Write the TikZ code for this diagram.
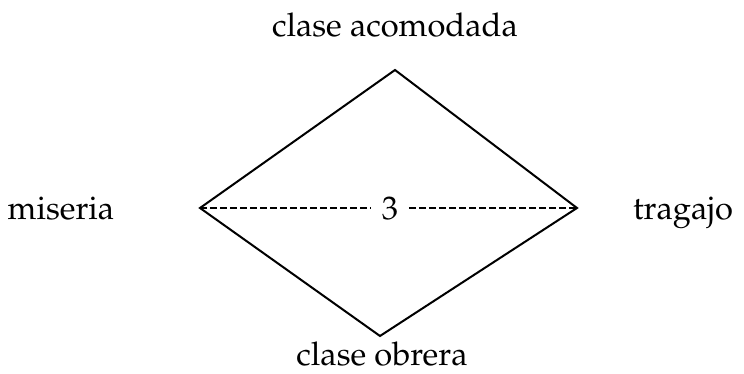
\documentclass[tikz,border=0pt]{standalone}
\usepackage[T1]{fontenc}
\usepackage{mathpazo}
\usepackage{tikz}
\usetikzlibrary{positioning}
\tikzset{
  lbl/.style={anchor=base, font=\fontsize{9.8}{12}\selectfont},
  rombo/.style={line width=0.6pt, line join=miter},
  guion/.style={line width=0.5pt, dash pattern=on 2pt off 1pt}
}

\begin{document}
\begin{tikzpicture}[x=0.3pt, y=-0.3pt]
    \useasboundingbox (0,0) rectangle (744,374);
    % vertices of the rhombus
    \coordinate (acom) at (395,70);
    \coordinate (mis)  at (200,208);
    \coordinate (trab) at (577,208);
    \coordinate (obre) at (380,336);
    \draw[rombo] (acom) -- (trab) -- (obre) -- (mis) -- cycle;
    % labels
    \node[lbl] (lacom) at (395,37)  {clase acomodada};
    \node[lbl] (lmis)  at (61,220)  {miseria};
    \node[lbl] (ltrab) at (683,220) {tragajo};
    \node[lbl] (lobre) at (382,366) {clase obrera};
    \node[lbl, inner sep=3pt] (tres) at (390,220) {3};
    \draw[guion] (mis) -- (mis -| tres.west);
    \draw[guion] (trab -| tres.east) -- (trab);
  \end{tikzpicture}
\end{document}
